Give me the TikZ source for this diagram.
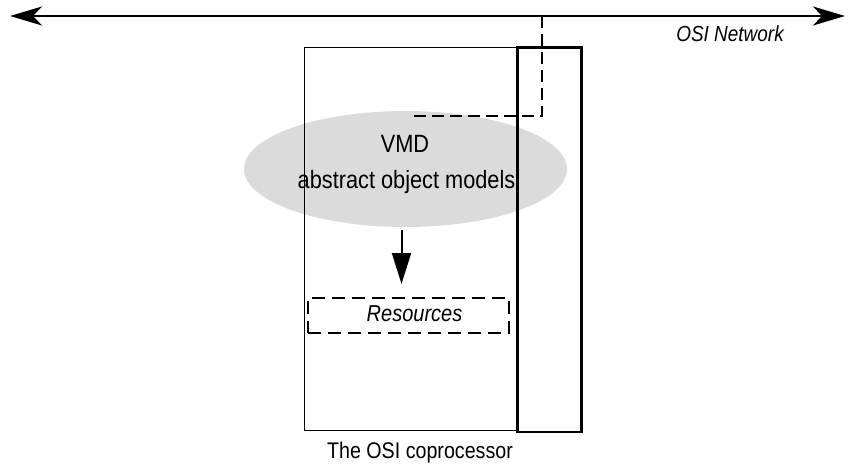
\documentclass[tikz,border=0pt]{standalone}
\usepackage{fontspec}
\setmainfont{Liberation Sans}[FakeStretch=0.87]
\usetikzlibrary{shapes.geometric,arrows.meta}
\begin{document}
\begin{tikzpicture}[x=1pt,y=-1pt,
  lbl/.style={anchor=base,inner sep=0pt},
  dashline/.style={line width=2pt,dash pattern=on 12pt off 6pt},
  netarrow/.style={line width=2pt,{Stealth[length=32pt,width=19pt,inset=9pt]}-{Stealth[length=32pt,width=19pt,inset=9pt]}}]
\useasboundingbox (0,0) rectangle (853,465);
% ellipse
\node[ellipse,fill=black!14,minimum width=323pt,minimum height=116pt,inner sep=0pt] (vmd) at (405.5,169) {};
% network
\coordinate (netL) at (10,16);
\coordinate (netR) at (845,16);
\draw[netarrow] (netL) -- (netR);
\node[lbl,font=\fontsize{21.8}{24}\selectfont\itshape] (netlbl) at (730,42) {OSI Network};
% coprocessor boxes
\node[draw,line width=1pt,minimum width=213pt,minimum height=383pt,inner sep=0pt,anchor=north west] (cop) at (304,47) {};
\node[draw,line width=2.5pt,minimum width=64pt,minimum height=384pt,inner sep=0pt,anchor=north west] (osi) at (516,46.5) {};
% dashed tap
\coordinate (tap) at (542,16);
\coordinate (tapend) at (412,116);
\draw[dashline] (tap) |- (tapend);
% texts
\node[lbl,font=\fontsize{25}{28}\selectfont] (t1) at (405,153) {VMD};
\node[lbl,font=\fontsize{25}{28}\selectfont] (t2) at (406.5,189) {abstract object models};
% resources
\node[draw,dash pattern=on 13pt off 7pt,line width=2pt,minimum width=201pt,minimum height=35pt,inner sep=0pt] (res) at (408.5,315.5) {};
\node[lbl,font=\fontsize{23}{26}\selectfont\itshape] (reslbl) at (414.5,321) {Resources};
% arrow
\coordinate (arrstart) at (401.5,230);
\draw[line width=2pt,-{Stealth[length=31pt,width=19pt,inset=0pt]}] (arrstart) -- (401.5,284);
\node[lbl,font=\fontsize{22.6}{25}\selectfont] (coplbl) at (420,458) {The OSI coprocessor};
\end{tikzpicture}
\end{document}
